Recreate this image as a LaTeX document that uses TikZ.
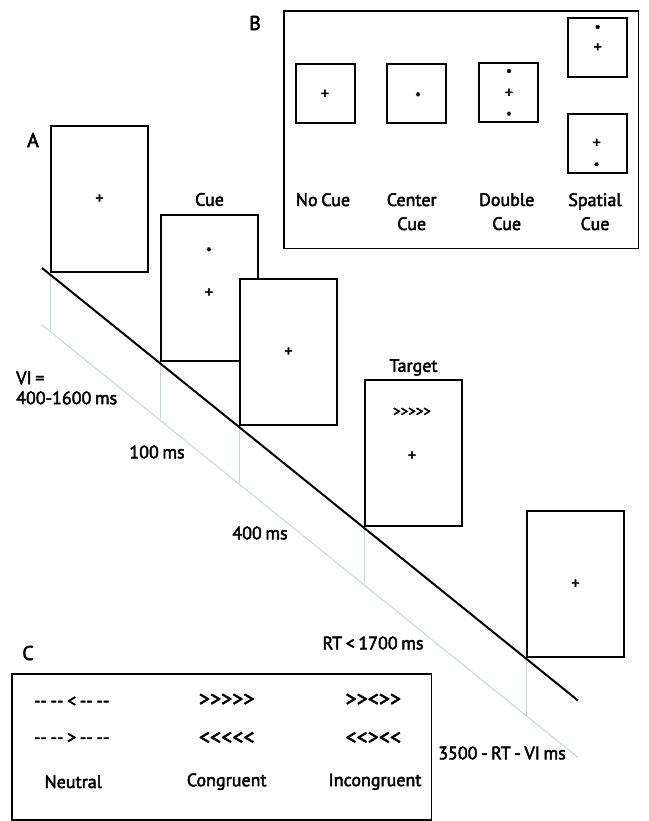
\documentclass[tikz,border=0pt]{standalone}
\usepackage{fontspec}
\setmainfont{PT Sans}[Ligatures=TeXOff,WordSpace=0.75,BoldFont=PT Sans,BoldFeatures={FakeBold=2.5}]
\usetikzlibrary{calc,positioning}
\definecolor{guidegrey}{RGB}{200,213,224}
\tikzset{screen/.style={draw,fill=white,line width=2pt,minimum width=97pt,minimum height=146pt,inner sep=0pt},
  cuebox/.style={draw,line width=2pt,minimum size=59pt,inner sep=0pt},
  frame/.style={draw,line width=1.8pt,inner sep=0pt,anchor=north west},
  lbl/.style={font=\fontsize{18}{24}\selectfont\bfseries,inner sep=0pt,align=center},
  sym/.style={font=\fontsize{16}{16}\selectfont\bfseries,inner sep=0pt},
  star/.style={font=\fontsize{14}{14}\selectfont\bfseries,inner sep=0pt,yshift=-2.5pt},
  flank/.style={lbl,font=\fontsize{22}{22}\selectfont\bfseries},
  panel/.style={font=\fontsize{20}{20}\selectfont\bfseries,inner sep=0pt},
  timeline/.style={line width=2pt},
  guide/.style={guidegrey,line width=1pt}}
\begin{document}
\begin{tikzpicture}[x=1pt,y=-1pt]
\useasboundingbox (0,0) rectangle (648,821);
\coordinate (t0) at (42,268);
\coordinate (t1) at (578,700.5);
\draw[guide] ([yshift=-57pt]t0) -- ([yshift=-57pt]t1);
\foreach \n/\x in {s1/50,s2/160,s3/239,s4/364,s5/526}{
  \node[screen,anchor=south west] (\n) at (\x,{273+0.809*(\x-50)}) {};
  \draw[guide] (\n.south west) -- ++(0,57);}
\draw[timeline] (t0) -- (t1);
\node[sym] (f1) at (s1) {+};
\node[star] (a2) at (209,250) {*};
\node[sym] (f2) at (209,293) {+};
\node[sym] (f3) at (s3) {+};
\node[sym,font=\fontsize{15}{15}\selectfont\bfseries] (ar4) at (412,412) {>>>>>};
\node[sym] (f4) at (412,456) {+};
\node[sym] (f5) at (s5) {+};
\node[panel] (pa) at (33,140) {A};
\node[lbl,text depth=0pt,above=8pt of s2] (cue) {Cue};
\node[lbl,text depth=0pt,above=7pt of s4] (tgt) {Target};
\node[lbl,font=\fontsize{18}{20}\selectfont\bfseries,anchor=west,align=left] (vi) at (16,388) {VI =\\400-1600 ms};
\node[lbl] (d1) at (157,452) {100 ms};
\node[lbl] (d2) at (260,533) {400 ms};
\node[lbl] (d3) at (373,643) {RT < 1700 ms};
\node[lbl] (d4) at (502,753) {3500 - RT - VI ms};
\node[panel] (pb) at (255,23) {B};
\node[frame,minimum width=354.2pt,minimum height=237.5pt] (bx) at (283.3,10) {};
\foreach \n/\x/\y in {b1/325.8/93.3,b2/416.7/93.3,b3/508/92.3,b4/597/47.7,b5/597.2/144}
  \node[cuebox] (\n) at (\x,\y) {};
\node[sym] (bf1) at (325,94.3) {+};
\node[star] (ba2) at (418,95) {*};
\node[star] (ba3) at (509,71.7) {*};
\node[sym] (bf3) at (509,93.3) {+};
\node[star] (bb3) at (509,114.3) {*};
\node[star] (ba4) at (597.7,27.7) {*};
\node[sym] (bf4) at (597.7,47.7) {+};
\node[sym] (bf5) at (596.7,143.3) {+};
\node[star] (ba5) at (596.7,165) {*};
\node[lbl,anchor=north] (l1) at (323,193) {No Cue};
\node[lbl,anchor=north] (l2) at (411.7,193) {Center\\Cue};
\node[lbl,anchor=north] (l3) at (506.7,193) {Double\\Cue};
\node[lbl,anchor=north] (l4) at (595,193) {Spatial\\Cue};
\node[panel] (pc) at (28,653) {C};
\node[frame,minimum width=419.5pt,minimum height=146pt] (cx) at (11,672.7) {};
\node[lbl] (n1) at (71.7,701.7) {-{}- -{}- < -{}- -{}-};
\node[lbl] (n2) at (71.7,738.3) {-{}- -{}- > -{}- -{}-};
\node[lbl] (n3) at (73.3,781.7) {Neutral};
\node[flank] (c1) at (226.7,700) {>>>>>};
\node[flank] (c2) at (226.7,738.3) {<<<<<};
\node[lbl] (c3) at (226.7,781.7) {Congruent};
\node[flank] (i1) at (373.3,700) {>><>>};
\node[flank] (i2) at (373.3,738.3) {<<><<};
\node[lbl] (i3) at (375,781.7) {Incongruent};
\end{tikzpicture}
\end{document}
